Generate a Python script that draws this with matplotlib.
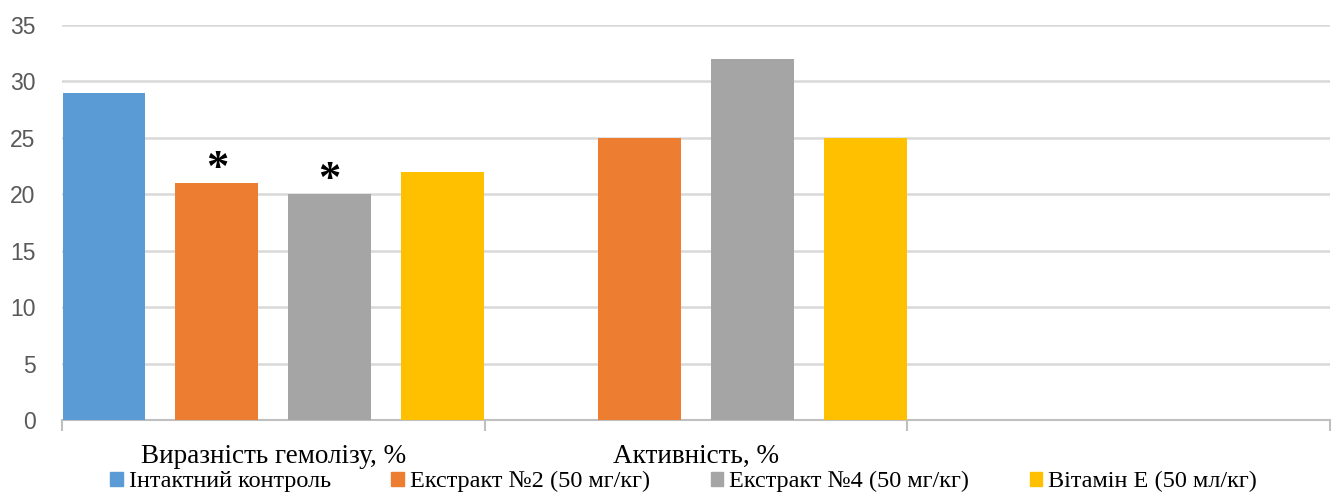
import numpy as np
import matplotlib.pyplot as plt
from matplotlib.patches import Patch

# ------ data ------ #
categories = ['Виразність гемолізу, %', 'Активність, %', '']
series_names = ['Інтактний контроль', 'Екстракт №2 (50 мг/кг)',
                'Екстракт №4 (50 мг/кг)', 'Вітамін Е (50 мл/кг)']
series_values = [
    [29, np.nan, np.nan],
    [21, 25, np.nan],
    [20, 32, np.nan],
    [22, 25, np.nan],
]
# bars marked as significant: (series index, category index)
significant = [(1, 0), (2, 0)]
colors = ['#5B9BD5', '#ED7D31', '#A5A5A5', '#FFC000']

# ------ figure ------ #
fig = plt.figure(figsize=(13.35, 4.96), dpi=100)
ax = fig.add_axes([0.0464, 0.1532, 0.950, 0.7964])

x = np.arange(len(categories))
bar_w = 0.196
step = 0.267

for i, (vals, col) in enumerate(zip(series_values, colors)):
    offs = (i - 1.5) * step
    ax.bar(x + offs, vals, width=bar_w, color=col, zorder=3)

for si, ci in significant:
    offs = (si - 1.5) * step
    ax.annotate('*', (x[ci] + offs, series_values[si][ci]), xytext=(0, -4),
                textcoords='offset points', ha='center', va='bottom',
                fontsize=32, fontweight='bold', family='Liberation Serif')

# axes styling
ax.set_xlim(-0.5, 2.5)
ax.set_ylim(0, 35)
ax.set_yticks(np.arange(0, 36, 5))
ax.yaxis.grid(True, color='#d9d9d9', linewidth=1.8, zorder=0)
ax.set_axisbelow(True)
for s in ['top', 'right', 'left']:
    ax.spines[s].set_visible(False)
ax.spines['bottom'].set_color('#bfbfbf')
ax.spines['bottom'].set_linewidth(1.5)

ax.tick_params(axis='y', length=0, labelsize=16.5, labelcolor='#595959', pad=19)
for lab in ax.get_yticklabels():
    lab.set_family('Liberation Sans')

# boundary ticks between categories
ax.set_xticks(np.arange(-0.5, 2.6, 1.0))
ax.set_xticklabels([])
ax.tick_params(axis='x', which='major', length=8, width=1.5, color='#bfbfbf')
ax.set_xticks(x, minor=True)
ax.set_xticklabels(categories, minor=True, fontsize=19.5, family='Liberation Serif')
ax.tick_params(axis='x', which='minor', length=0, pad=17)

# legend
handles = [Patch(color=c) for c in colors]
fig.legend(handles, series_names, loc='lower center', ncol=4,
           bbox_to_anchor=(0.512, -0.017), frameon=False, borderpad=0,
           prop={'family': 'Liberation Serif', 'size': 17.5},
           handlelength=0.5, handleheight=0.5, handletextpad=0.25,
           columnspacing=2.5)

fig.savefig('out.png', dpi=100)
